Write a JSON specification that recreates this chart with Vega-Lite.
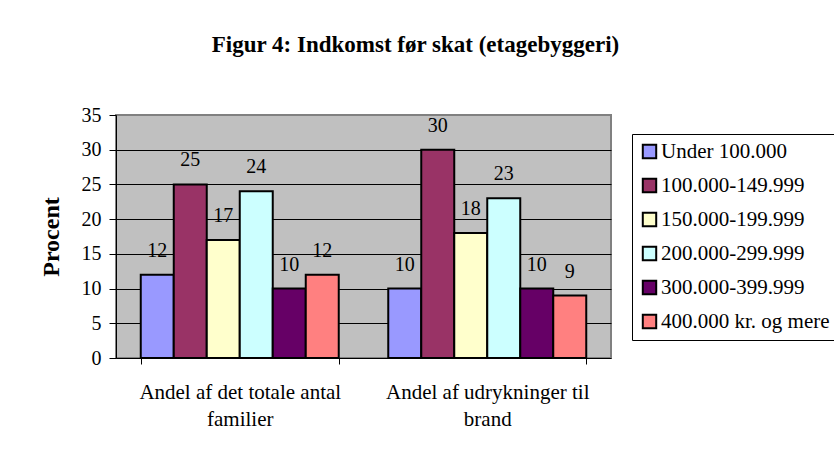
{
  "$schema": "https://vega.github.io/schema/vega-lite/v6.json",
  "width": 495,
  "height": 243,
  "autosize": {"type": "none"},
  "padding": {"left": 116, "top": 115, "right": 223, "bottom": 92},
  "background": "white",
  "title": {
    "text": "Figur 4: Indkomst før skat (etagebyggeri)",
    "font": "Liberation Serif",
    "fontSize": 23,
    "fontWeight": "bold",
    "color": "black",
    "anchor": "middle",
    "frame": "group",
    "dx": 52,
    "baseline": "alphabetic",
    "offset": 30
  },
  "data": {
    "values": [
      {"group": "Andel af det totale antal familier", "income": "Under 100.000", "pct": 12},
      {"group": "Andel af det totale antal familier", "income": "100.000-149.999", "pct": 25},
      {"group": "Andel af det totale antal familier", "income": "150.000-199.999", "pct": 17},
      {"group": "Andel af det totale antal familier", "income": "200.000-299.999", "pct": 24},
      {"group": "Andel af det totale antal familier", "income": "300.000-399.999", "pct": 10},
      {"group": "Andel af det totale antal familier", "income": "400.000 kr. og mere", "pct": 12},
      {"group": "Andel af udrykninger til brand", "income": "Under 100.000", "pct": 10},
      {"group": "Andel af udrykninger til brand", "income": "100.000-149.999", "pct": 30},
      {"group": "Andel af udrykninger til brand", "income": "150.000-199.999", "pct": 18},
      {"group": "Andel af udrykninger til brand", "income": "200.000-299.999", "pct": 23},
      {"group": "Andel af udrykninger til brand", "income": "300.000-399.999", "pct": 10},
      {"group": "Andel af udrykninger til brand", "income": "400.000 kr. og mere", "pct": 9}
    ]
  },
  "encoding": {
    "x": {
      "field": "group",
      "type": "nominal",
      "sort": null,
      "scale": {"paddingInner": 0.2, "paddingOuter": 0.1},
      "axis": {
        "title": null,
        "labelAngle": 0,
        "tickBand": "extent",
        "tickSize": 6,
        "labelPadding": 17,
        "labelFontSize": 21,
        "labelLineHeight": 27,
        "labelBaseline": "top",
        "labelLimit": 300,
        "labelExpr": "datum.value == 'Andel af det totale antal familier' ? ['Andel af det totale antal', 'familier'] : (datum.value == 'Andel af udrykninger til brand' ? ['Andel af udrykninger til', 'brand'] : '')"
      }
    },
    "xOffset": {
      "field": "income",
      "type": "nominal",
      "sort": ["Under 100.000", "100.000-149.999", "150.000-199.999", "200.000-299.999", "300.000-399.999", "400.000 kr. og mere"],
      "scale": {"paddingInner": 0, "paddingOuter": 0}
    },
    "y": {
      "field": "pct",
      "type": "quantitative",
      "scale": {"domain": [0, 35], "nice": false},
      "axis": {
        "title": "Procent",
        "titleFontSize": 24,
        "titleFontWeight": "bold",
        "titlePadding": 18,
        "values": [0, 5, 10, 15, 20, 25, 30, 35],
        "tickSize": 7,
        "labelPadding": 8,
        "labelFontSize": 20,
        "grid": true,
        "gridColor": {"condition": {"test": "datum.value == 35 || datum.value == 0", "value": "#808080"}, "value": "black"},
        "gridWidth": 1
      }
    }
  },
  "layer": [
    {
      "mark": {"type": "bar", "stroke": "black", "strokeWidth": 2},
      "encoding": {
        "color": {
          "field": "income",
          "type": "nominal",
          "scale": {
            "domain": ["Under 100.000", "100.000-149.999", "150.000-199.999", "200.000-299.999", "300.000-399.999", "400.000 kr. og mere"],
            "range": ["#9999FF", "#993366", "#FFFFCC", "#CCFFFF", "#660066", "#FF8080"]
          },
          "legend": {
            "orient": "none",
            "legendX": 516,
            "legendY": 19,
            "title": null,
            "strokeColor": "black",
            "fillColor": "white",
            "padding": 7,
            "symbolType": "square",
            "symbolSize": 180,
            "symbolStrokeColor": "black",
            "symbolStrokeWidth": 2,
            "symbolOpacity": 1,
            "labelFont": "Liberation Serif",
            "labelFontSize": 21,
            "labelColor": "black",
            "labelOffset": 1,
            "rowPadding": 11,
            "labelLimit": 300
          }
        }
      }
    },
    {
      "mark": {"type": "text", "baseline": "alphabetic", "dy": -18, "fontSize": 20, "color": "black", "font": "Liberation Serif"},
      "encoding": {
        "text": {"field": "pct", "type": "quantitative"}
      }
    }
  ],
  "config": {
    "font": "Liberation Serif",
    "view": {"fill": "#C0C0C0", "stroke": "#808080", "strokeWidth": 2},
    "axis": {
      "labelFont": "Liberation Serif",
      "titleFont": "Liberation Serif",
      "labelColor": "black",
      "titleColor": "black",
      "domainColor": "black",
      "domainWidth": 1,
      "tickColor": "black",
      "tickWidth": 1
    },
    "legend": {"labelFont": "Liberation Serif"}
  }
}
